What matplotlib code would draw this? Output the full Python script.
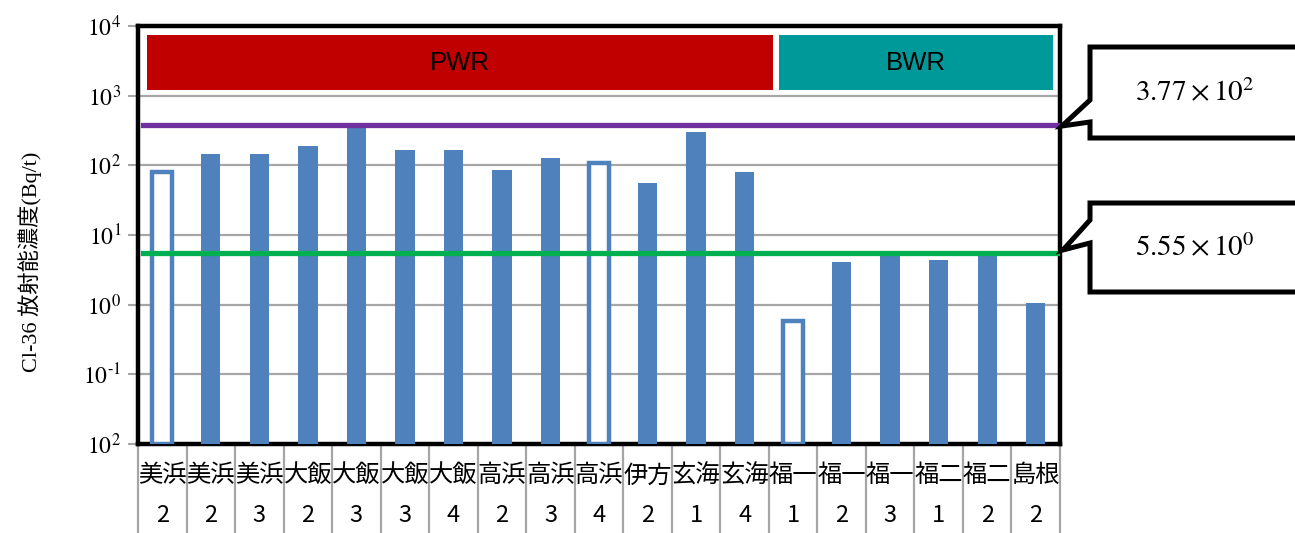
import matplotlib
matplotlib.use("Agg")
import matplotlib.pyplot as plt
from matplotlib.patches import Polygon, Rectangle
import numpy as np

plt.rcParams['mathtext.fontset'] = 'stix'

plants = ["美浜", "美浜", "美浜", "大飯", "大飯", "大飯", "大飯", "高浜", "高浜", "高浜",
          "伊方", "玄海", "玄海", "福一", "福一", "福一", "福二", "福二", "島根"]
units = ["2", "2", "3", "2", "3", "3", "4", "2", "3", "4",
         "2", "1", "4", "1", "2", "3", "1", "2", "2"]
values = [81, 147, 147, 192, 360, 166, 166, 87, 128, 109,
          55, 302, 81, 0.59, 4.1, 5.2, 4.4, 5.0, 1.07]
hollow = [True, False, False, False, False, False, False, False, False, True,
          False, False, False, True, False, False, False, False, False]
limit_high = 3.77e2
limit_low = 5.55
ytick_vals = [1e-2, 1e-1, 1e0, 1e1, 1e2, 1e3, 1e4]
ytick_labels = [r'$10^{2}$', r'$10^{‐1}$', r'$10^{0}$', r'$10^{1}$', r'$10^{2}$', r'$10^{3}$', r'$10^{4}$']
group_labels = ["PWR", "BWR"]
group_span = [(-0.31, 12.59), (12.70, 18.35)]
group_colors = ["#C00000", "#009999"]

W, H = 1295, 533
fig = plt.figure(figsize=(W/100, H/100), dpi=100)
ax = fig.add_axes([138/W, 1-444/H, (1060-138)/W, (444-26)/H])

blue = "#4F81BD"
x = np.arange(len(values))
for xi, v, h in zip(x, values, hollow):
    if h:
        ax.bar(xi, v - 1e-2, bottom=1e-2, width=0.41, facecolor="white",
               edgecolor=blue, linewidth=3.2, zorder=3)
    else:
        ax.bar(xi, v - 1e-2, bottom=1e-2, width=0.40, color=blue, zorder=3)

ax.set_yscale('log')
ax.set_ylim(1e-2, 1e4)
ax.set_xlim(-0.5, len(values)-0.5)
ax.set_yticks(ytick_vals)
ax.set_yticklabels(ytick_labels, fontsize=17)
ax.minorticks_off()
ax.tick_params(axis='y', length=7, width=1.5, color="#A6A6A6", pad=5)
ax.set_xticks([])
ax.grid(axis='y', color="#A6A6A6", linewidth=1.6, zorder=1)
ax.set_axisbelow(True)
for s in ax.spines.values():
    s.set_linewidth(3.2)
    s.set_color("black")

ax.axhline(limit_high, color="#7030A0", linewidth=3.8, zorder=4, xmin=0.005)
ax.axhline(limit_low, color="#00B050", linewidth=3.8, zorder=4, xmin=0.005)

# group bands
for lab, (x0, x1), c in zip(group_labels, group_span, group_colors):
    ax.add_patch(Rectangle((x0, 0.847), x1-x0, 0.131, transform=ax.get_xaxis_transform(),
                           facecolor=c, edgecolor='none', zorder=5))
    ax.text((x0+x1)/2, 0.912, lab, transform=ax.get_xaxis_transform(), ha='center', va='center',
            fontsize=18.5, family=['Liberation Sans'], color='black', zorder=6)

# category table
for b in np.arange(-0.5, len(values), 1.0):
    ax.plot([b, b], [0, -0.25], transform=ax.get_xaxis_transform(), color="#A6A6A6",
            linewidth=1.6, clip_on=False, zorder=0)
for xi, p, u in zip(x, plants, units):
    ax.text(xi, -0.075, p, transform=ax.get_xaxis_transform(), ha='center', va='center',
            fontsize=17.5, family=['Noto Sans CJK JP', 'DejaVu Sans'])
    ax.text(xi, -0.187, u, transform=ax.get_xaxis_transform(), ha='center', va='baseline',
            fontsize=17, family=['Noto Sans CJK JP', 'DejaVu Sans'])

fig.text(30/W, 1-262/H, "Cl-36 放射能濃度(Bq/t)", rotation=90, ha='center', va='center',
         fontsize=16, family=['Liberation Serif', 'Noto Sans CJK JP'])

def px(pts):
    return [(a/W, 1-b/H) for a, b in pts]

c1 = [(1090, 47), (1310, 47), (1310, 138), (1090, 138), (1090, 122), (1062, 126), (1090, 100)]
c2 = [(1090, 203), (1310, 203), (1310, 292), (1090, 292), (1090, 243), (1063, 250), (1090, 220)]
for pts in (c1, c2):
    fig.patches.append(Polygon(px(pts), closed=True, transform=fig.transFigure, facecolor='white',
                               edgecolor='black', linewidth=3.6, joinstyle='miter', zorder=10))
fig.text(1195/W, 1-93/H, r'$3.77\times10^{2}$', ha='center', va='center', fontsize=21, zorder=11)
fig.text(1195/W, 1-248/H, r'$5.55\times10^{0}$', ha='center', va='center', fontsize=21, zorder=11)

fig.savefig("out.png", dpi=100)
